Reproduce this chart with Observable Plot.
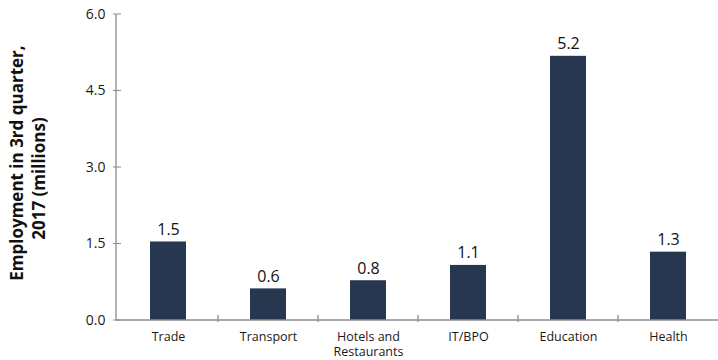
<!DOCTYPE html>
<html>
<head>
<meta charset="utf-8">
<script src="https://cdn.jsdelivr.net/npm/d3@7"></script>
<script src="https://cdn.jsdelivr.net/npm/@observablehq/plot@0.6"></script>
<style>
  html, body { margin: 0; padding: 0; background: #fff; }
  #chart { width: 718px; height: 360px; }
</style>
</head>
<body>
<div id="chart"></div>
<script>
const categories = ["Trade", "Transport", "Hotels and Restaurants", "IT/BPO", "Education", "Health"];
const tickLabels = ["Trade", "Transport", "Hotels and\nRestaurants", "IT/BPO", "Education", "Health"];
const values = [1.54, 0.62, 0.78, 1.08, 5.18, 1.34];
const yTicks = [0, 1.5, 3.0, 4.5, 6.0];
const titleLines = ["Employment in 3rd quarter,", "2017 (millions)"];

const data = categories.map((c, i) => ({cat: c, val: values[i]}));

const axisColor = "#8c8c8c";

function axesMark(index, scales, values, dims) {
  const g = d3.create("svg:g").attr("stroke", axisColor).attr("fill", "none");
  const {width, height, marginLeft, marginRight, marginTop, marginBottom} = dims;
  const x0 = marginLeft, x1 = width - marginRight;
  const yb = height - marginBottom;
  g.append("line").attr("x1", x0).attr("x2", x0).attr("y1", scales.y(6)).attr("y2", yb).attr("stroke-width", 1.3);
  g.append("line").attr("x1", x0).attr("x2", x1).attr("y1", yb).attr("y2", yb).attr("stroke-width", 1.6);
  for (const t of yTicks) {
    const y = scales.y(t);
    g.append("line").attr("x1", x0 - 3).attr("x2", x0 + 5).attr("y1", y).attr("y2", y).attr("stroke-width", 1);
  }
  for (const c of categories.slice(1)) {
    const x = scales.x(c);
    g.append("line").attr("x1", x).attr("x2", x).attr("y1", yb - 5).attr("y2", yb + 2).attr("stroke-width", 1.3);
  }
  return g.node();
}

const chart = Plot.plot({
  width: 718,
  height: 360,
  marginLeft: 116,
  marginRight: -2,
  marginTop: 14,
  marginBottom: 40,
  style: {fontFamily: "'Open Sans', sans-serif", color: "#1a1a1a", background: "#fff"},
  x: {domain: categories, padding: 0},
  y: {domain: [0, 6]},
  marks: [
    Plot.barY(data, {x: "cat", y: "val", fill: "#283750", insetLeft: 32, insetRight: 32}),
    Plot.text(data, {x: "cat", y: "val", text: d => d.val.toFixed(1), dy: -7, lineAnchor: "bottom", fontSize: 16, fill: "#111"}),
    Plot.axisX({tickSize: 0, tickPadding: 10, tickFormat: d => tickLabels[categories.indexOf(d)], fontSize: 12.5, label: null, lineHeight: 1.2}),
    Plot.axisY({ticks: yTicks, tickFormat: d => d.toFixed(1), tickSize: 0, tickPadding: 11, fontSize: 14, label: null}),
    axesMark,
    Plot.text([titleLines[0]], {frameAnchor: "left", rotate: -90, textAnchor: "middle", lineAnchor: "middle", dx: -99, dy: -4.5, fontSize: 17, fontWeight: "bold", fill: "#111"}),
    Plot.text([titleLines[1]], {frameAnchor: "left", rotate: -90, textAnchor: "middle", lineAnchor: "middle", dx: -77, dy: 11, fontSize: 17, fontWeight: "bold", fill: "#111"})
  ]
});
document.getElementById("chart").appendChild(chart);
</script>
</body>
</html>
